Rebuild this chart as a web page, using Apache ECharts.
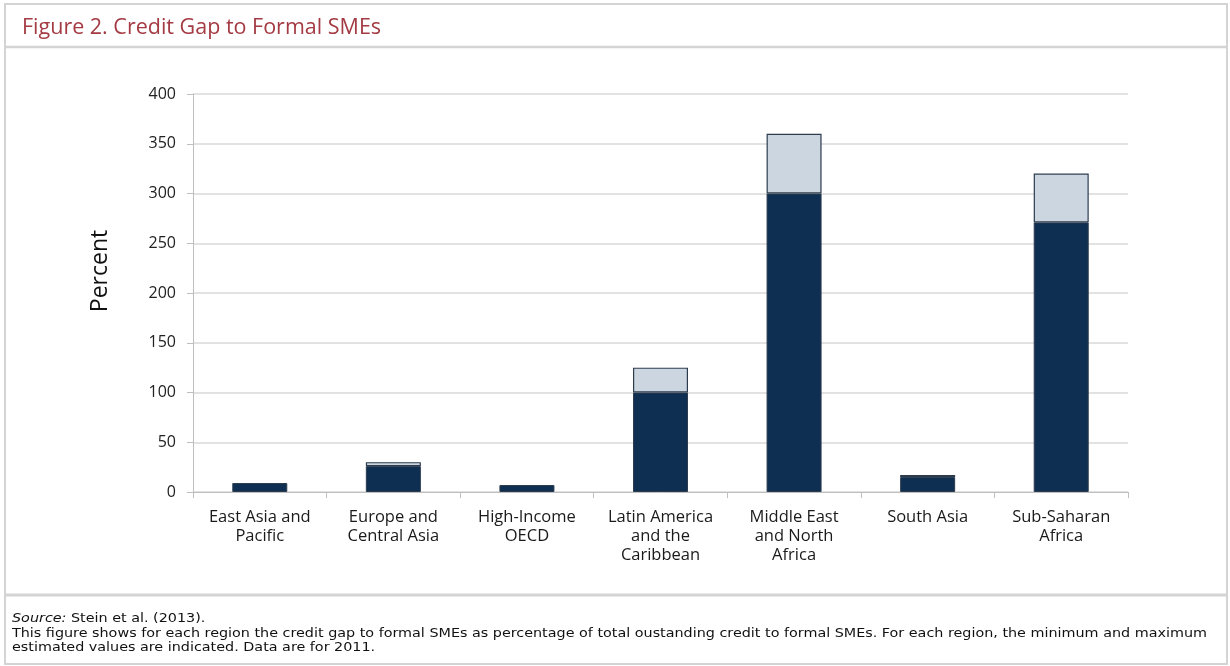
<!DOCTYPE html>
<html>
<head>
<meta charset="utf-8">
<script src="https://cdn.jsdelivr.net/npm/echarts@6/dist/echarts.min.js"></script>
<style>
  html, body { margin: 0; padding: 0; background: #fff; }
  #main-chart-1 { width: 1230px; height: 666px; }
</style>
</head>
<body>
<div id="main-chart-1"></div>
<script>
// Bölgeler
const regions = [
    'East Asia and\nPacific',
    'Europe and\nCentral Asia',
    'High-Income\nOECD',
    'Latin America\nand the\nCaribbean',
    'Middle East\nand North\nAfrica',
    'South Asia',
    'Sub-Saharan\nAfrica'
];

// Tahmini minimum ve maksimum kredi açığı (%)
const gapMin = [9, 26, 7, 100, 300, 15, 271];
const gapMax = [9, 30, 7, 125, 360, 17, 320];

const yTicks = [0, 50, 100, 150, 200, 250, 300, 350, 400];

const titleText = 'Figure 2. Credit Gap to Formal SMEs';
const sourceText = 'Stein et al. (2013).';
const noteLine1 = 'This figure shows for each region the credit gap to formal SMEs as percentage of total oustanding credit to formal SMEs. For each region, the minimum and maximum';
const noteLine2 = 'estimated values are indicated. Data are for 2011.';

// light kısım = max - min
const gapRange = gapMax.map((v, i) => {
    const d = v - gapMin[i];
    return d > 0 ? d : null;
});

const chart = echarts.init(document.getElementById('main-chart-1'));

const frameColor = '#d4d4d4';
const baseFont = '"Open Sans", "DejaVu Sans", sans-serif';
const noteFont = '13px "DejaVu Sans Condensed", "Liberation Sans", sans-serif';

// dipnot satırını 12..1207 arasına sığdırmak için yatay ölçek
const ctx = document.createElement('canvas').getContext('2d');
ctx.font = noteFont;
const noteScale = 1195 / ctx.measureText(noteLine1).width;

chart.setOption({
    animation: false,
    textStyle: { fontFamily: baseFont },
    grid: { left: 193, right: 102, top: 94, bottom: 174 },
    xAxis: {
        type: 'category',
        data: regions,
        axisLine: { lineStyle: { color: '#bfbfbf', width: 1 } },
        axisTick: { show: true, alignWithLabel: false, length: 6, lineStyle: { color: '#bfbfbf' } },
        axisLabel: {
            color: '#1a1a1a', fontSize: 16.5, lineHeight: 19, margin: 16,
            interval: 0, fontFamily: baseFont
        }
    },
    yAxis: {
        type: 'value',
        min: yTicks[0],
        max: yTicks[yTicks.length - 1],
        interval: 50,
        axisLine: { show: true, lineStyle: { color: '#bfbfbf', width: 1 } },
        axisTick: { show: true, length: 6, lineStyle: { color: '#bfbfbf' } },
        axisLabel: { color: '#222', fontSize: 16, margin: 17, fontFamily: baseFont },
        splitLine: { lineStyle: { color: '#d9d9d9', width: 1.5 } }
    },
    series: [
        {
            name: 'Minimum',
            type: 'bar',
            stack: 'gap',
            barWidth: 55,
            data: gapMin,
            itemStyle: { color: '#0f2f52', borderColor: '#2c3c4e', borderWidth: 1 }
        },
        {
            name: 'Maximum',
            type: 'bar',
            stack: 'gap',
            barWidth: 55,
            data: gapRange,
            itemStyle: { color: '#ccd6e1', borderColor: '#2c3c4e', borderWidth: 1.2 }
        }
    ],
    graphic: [
        // dış çerçeve
        { type: 'rect', shape: { x: 5, y: 4, width: 1222, height: 660 },
          style: { fill: 'none', stroke: frameColor, lineWidth: 2 }, silent: true },
        { type: 'line', shape: { x1: 5, y1: 47, x2: 1227, y2: 47 },
          style: { stroke: frameColor, lineWidth: 2.5 }, silent: true },
        { type: 'line', shape: { x1: 5, y1: 595, x2: 1227, y2: 595 },
          style: { stroke: frameColor, lineWidth: 3 }, silent: true },
        { type: 'text', x: 22, y: 28,
          style: { text: titleText, fill: '#a43a43', font: '21.5px ' + baseFont, verticalAlign: 'middle' } },
        // y ekseni başlığı
        { type: 'text', x: 100, y: 271, rotation: Math.PI / 2,
          style: { text: 'Percent', fill: '#111', font: '23px ' + baseFont, align: 'center', verticalAlign: 'middle' } },
        // dipnotlar
        { type: 'text', x: 12, y: 619, scaleX: noteScale,
          style: {
              text: '{i|Source:} ' + sourceText,
              fill: '#111', font: noteFont, verticalAlign: 'middle',
              rich: { i: { fontStyle: 'italic', fontSize: 13, fontFamily: '"DejaVu Sans Condensed", sans-serif' } }
          } },
        { type: 'text', x: 12, y: 634, scaleX: noteScale,
          style: { text: noteLine1, fill: '#111', font: noteFont, verticalAlign: 'middle' } },
        { type: 'text', x: 12, y: 648, scaleX: noteScale,
          style: { text: noteLine2, fill: '#111', font: noteFont, verticalAlign: 'middle' } }
    ]
});

window.addEventListener('resize', () => chart.resize());
</script>
</body>
</html>
